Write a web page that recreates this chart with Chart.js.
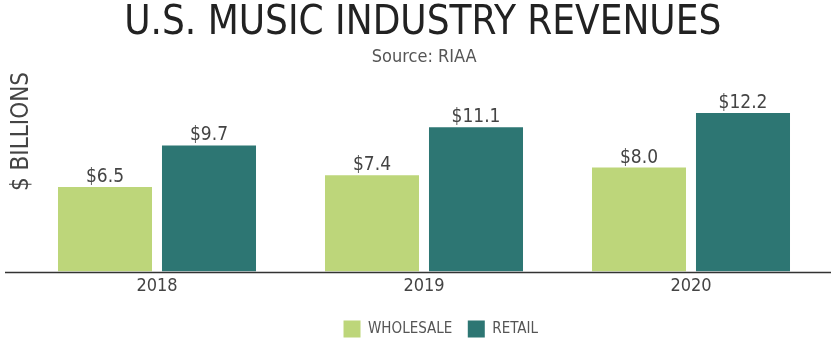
<!DOCTYPE html>
<html>
<head>
<meta charset="utf-8">
<script src="https://cdn.jsdelivr.net/npm/chart.js@4/dist/chart.umd.min.js"></script>
<style>
html,body{margin:0;padding:0;background:#fff;}
#wrap{width:836px;height:357px;}
</style>
</head>
<body>
<div id="wrap"><canvas id="c" width="836" height="357"></canvas></div>
<script>
const categories = ['2018', '2019', '2020'];
const wholesale = [6.5, 7.4, 8.0];
const retail = [9.7, 11.1, 12.2];
const seriesNames = ['WHOLESALE', 'RETAIL'];
const titleText = 'U.S. MUSIC INDUSTRY REVENUES';
const subtitleText = 'Source: RIAA';
const yTitleText = '$ BILLIONS';

const FONT = "'DejaVu Sans Condensed', 'Liberation Sans Narrow', sans-serif";

// horizontal nudges for the centred text blocks (layout only)
const shiftBlocks = {
  id: 'shiftBlocks',
  afterLayout(chart) {
    const shift = (b, dx) => { if (b) { b.left += dx; b.right += dx; } };
    chart.boxes.forEach(b => {
      if (b.options && b.options.text === titleText) shift(b, 10.5);
      if (b.options && b.options.text === subtitleText) shift(b, 12);
    });
    shift(chart.legend, 28.5);
  }
};

const baseLine = {
  id: 'baseLine',
  afterDatasetsDraw(chart) {
    const ctx = chart.ctx;
    const y = Math.round(chart.scales.y.getPixelForValue(0)) + 0.5;
    ctx.save();
    ctx.strokeStyle = '#333';
    ctx.lineWidth = 1.5;
    ctx.beginPath();
    ctx.moveTo(5, y);
    ctx.lineTo(831, y);
    ctx.stroke();
    ctx.restore();
  }
};

const valueLabels = {
  id: 'valueLabels',
  afterDatasetsDraw(chart) {
    const ctx = chart.ctx;
    ctx.save();
    ctx.font = "19px " + FONT;
    ctx.fillStyle = '#444';
    ctx.textAlign = 'center';
    ctx.textBaseline = 'alphabetic';
    chart.data.datasets.forEach((ds, i) => {
      chart.getDatasetMeta(i).data.forEach((bar, j) => {
        ctx.fillText('$' + ds.data[j].toFixed(1), bar.x, bar.y - 5);
      });
    });
    ctx.restore();
  }
};

new Chart(document.getElementById('c'), {
  type: 'bar',
  data: {
    labels: categories,
    datasets: [
      { label: seriesNames[0], data: wholesale, backgroundColor: '#bdd67a' },
      { label: seriesNames[1], data: retail, backgroundColor: '#2d7673' }
    ]
  },
  options: {
    responsive: false,
    animation: false,
    devicePixelRatio: 1,
    layout: { padding: { top: 0, left: 0, right: 11.5, bottom: 9.5 } },
    datasets: { bar: { categoryPercentage: 0.779, barPercentage: 0.904 } },
    plugins: {
      title: {
        display: true,
        text: titleText,
        color: '#222',
        font: { family: FONT, size: 40, weight: 'normal', lineHeight: 1.0 },
        padding: { top: 4, bottom: 0 }
      },
      subtitle: {
        display: true,
        text: subtitleText,
        color: '#555',
        font: { family: FONT, size: 18, weight: 'normal', lineHeight: 1.2 },
        padding: { top: 3, bottom: 3.4 }
      },
      legend: {
        position: 'bottom',
        labels: {
          boxWidth: 17, boxHeight: 17, padding: 15.5,
          color: '#555',
          font: { family: FONT, size: 15 }
        }
      },
      tooltip: { enabled: false }
    },
    scales: {
      x: {
        grid: { display: false, drawTicks: false },
        border: { display: false },
        ticks: { color: '#444', font: { family: FONT, size: 18 }, padding: 4 },
        afterFit(s) { s.height = 33.5; }
      },
      y: {
        min: 0, max: 15.35,
        grid: { display: false, drawTicks: false },
        border: { display: false },
        ticks: { display: false },
        afterFit(s) { s.width = 23.5; },
        title: {
          display: true, text: yTitleText, align: 'end', color: '#444',
          font: { family: FONT, size: 24, lineHeight: 1.2 },
          padding: { top: 7.6, bottom: 0 }
        }
      }
    }
  },
  plugins: [shiftBlocks, baseLine, valueLabels]
});
</script>
</body>
</html>
